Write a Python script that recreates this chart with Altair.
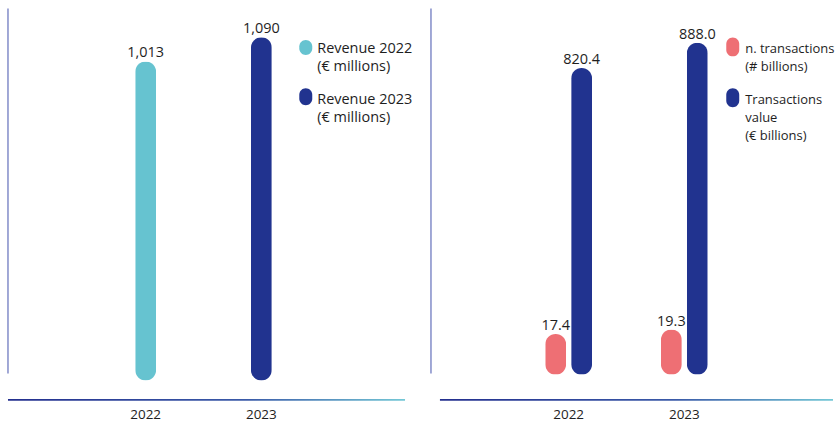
import altair as alt
import pandas as pd

# ---------------- data ----------------
years = ["2022", "2023"]
revenue = [1013, 1090]
n_transactions = [17.4, 19.3]
transactions_value = [820.4, 888.0]

rev_series = ["Revenue 2022\n(€ millions)", "Revenue 2023\n(€ millions)"]
tx_series = ["n. transactions\n(# billions)", "Transactions\nvalue\n(€ billions)"]

# ---------------- style ----------------
CYAN = "#66c3d0"
NAVY = "#21338f"
PINK = "#ee6f74"
VLINE = "#8a93cc"
TEXT = "#1e1e1e"
FONT = "Open Sans"

W = 392
LH = 373
RH = 367

grad = alt.Gradient(
    gradient="linear",
    stops=[
        alt.GradientStop(color="#232f8e", offset=0),
        alt.GradientStop(color="#3a5aa8", offset=0.6),
        alt.GradientStop(color="#74c8d6", offset=1),
    ],
    x1=0, x2=1, y1=0, y2=0,
)

one = pd.DataFrame({"k": [0]})


def xaxis(pad):
    return alt.Axis(title=None, domain=False, ticks=False, grid=False,
                    labelPadding=pad, labelFontSize=13.5, labelFont=FONT,
                    labelColor=TEXT, labelAngle=0, labelBaseline="top")


xscale = alt.Scale(domain=years, paddingInner=0.5, paddingOuter=0.94)


def decorations(x_end, x_start=0):
    vline = alt.Chart(one).mark_rule(color=VLINE, strokeWidth=1.6).encode(
        x=alt.value(0), y=alt.value(0), y2=alt.value(366))
    base = alt.Chart(one).mark_rect(color=grad).encode(
        x=alt.value(x_start), x2=alt.value(x_end),
        y=alt.value(391.5), y2=alt.value(393.2))
    return [vline, base]


def legend_entry(label, color, sx, sy0, sy1, tx, ty, fs):
    sym = alt.Chart(one).mark_rect(color=color, cornerRadius=6.5).encode(
        x=alt.value(sx), x2=alt.value(sx + 13), y=alt.value(sy0), y2=alt.value(sy1))
    txt = alt.Chart(pd.DataFrame({"t": [label]})).mark_text(
        align="left", baseline="alphabetic", lineBreak="\n", lineHeight=18,
        fontSize=fs, font=FONT, color=TEXT).encode(
        text="t:N", x=alt.value(tx), y=alt.value(ty))
    return [sym, txt]


# ---------------- left panel ----------------
left_df = pd.DataFrame({"year": years, "value": revenue, "series": rev_series})
lbase = alt.Chart(left_df).encode(
    x=alt.X("year:N", scale=xscale, axis=xaxis(27)),
    y=alt.Y("value:Q", scale=alt.Scale(domain=[0, 1181]), axis=None),
)
lbars = lbase.mark_bar(size=21, cornerRadius=10.5).encode(
    color=alt.Color("series:N", scale=alt.Scale(domain=rev_series, range=[CYAN, NAVY]), legend=None))
ltext = lbase.mark_text(dy=-4, baseline="alphabetic", fontSize=14.5, font=FONT, color=TEXT).encode(
    text=alt.Text("value:Q", format=",d"))

left = alt.layer(
    *decorations(398),
    lbars, ltext,
    *legend_entry(rev_series[0], CYAN, 292, 31.5, 46.5, 310, 45, 14.5),
    *legend_entry(rev_series[1], NAVY, 292, 80, 97, 310, 96, 14.5),
).properties(width=W, height=LH)

# ---------------- right panel ----------------
nt_df = pd.DataFrame({"year": years, "value": n_transactions, "series": [tx_series[0]] * 2})
tv_df = pd.DataFrame({"year": years, "value": transactions_value, "series": [tx_series[1]] * 2})

color_r = alt.Scale(domain=tx_series, range=[PINK, NAVY])
xoff = alt.XOffset("series:N", scale=alt.Scale(domain=tx_series, paddingInner=0, paddingOuter=0.115))


def rlayers(df, dom, fmt):
    b = alt.Chart(df).encode(
        x=alt.X("year:N", scale=xscale, axis=xaxis(33)),
        xOffset=xoff,
        y=alt.Y("value:Q", scale=alt.Scale(domain=[0, dom]), axis=None),
    )
    bars = b.mark_bar(size=21, cornerRadius=10.5).encode(
        color=alt.Color("series:N", scale=color_r, legend=None))
    txt = b.mark_text(dy=-4, baseline="alphabetic", fontSize=14.5, font=FONT, color=TEXT).encode(
        text=alt.Text("value:Q", format=fmt))
    return alt.layer(bars, txt)


right = alt.layer(
    *decorations(403, 9),
    rlayers(nt_df, 157, ".1f"),
    rlayers(tv_df, 980, ".1f"),
    *legend_entry(tx_series[0], PINK, 296, 29, 48, 315, 45, 13),
    *legend_entry(tx_series[1], NAVY, 296, 80, 99, 315, 96, 13),
).resolve_scale(y="independent").properties(width=W, height=RH)

chart = alt.hconcat(left, right, spacing=32, bounds="flush").resolve_scale(
    color="independent"
).properties(
    padding={"left": 7, "top": 7, "right": 0, "bottom": 2}
).configure_view(stroke=None)

chart.save("out.html", embed_options={"renderer": "svg", "actions": False})
